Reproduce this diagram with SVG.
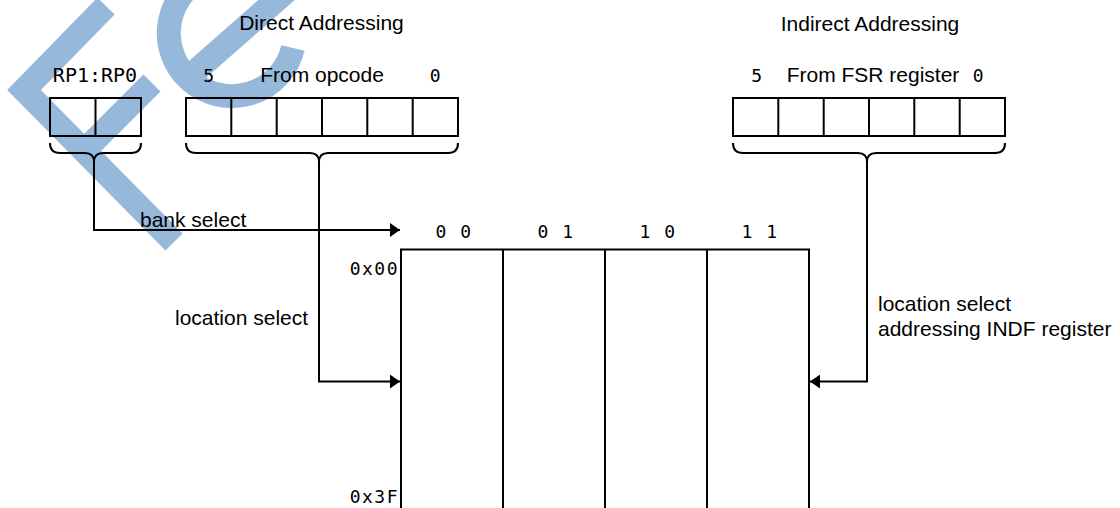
<svg xmlns="http://www.w3.org/2000/svg" width="1120" height="508" viewBox="0 0 1120 508">
<defs>
<style>
.wm{fill:none;stroke:#96b9db;stroke-width:24}
.box{fill:none;stroke:#000;stroke-width:2}
.ln{fill:none;stroke:#000;stroke-width:2}
.t{font-family:"Liberation Sans",Arial,sans-serif;font-size:21px;fill:#000}
.m{font-family:"DejaVu Sans Mono","Liberation Mono",monospace;font-size:18px;fill:#000;letter-spacing:1.5px}
.mb{font-family:"DejaVu Sans Mono","Liberation Mono",monospace;font-size:20px;fill:#000}
</style>
<marker id="ah" markerWidth="10" markerHeight="14" refX="10" refY="7" orient="auto" markerUnits="userSpaceOnUse">
<path d="M0,0 L10,7 L0,14 Z" fill="#000"/>
</marker>
</defs>
<rect width="1120" height="508" fill="#fff"/>
<g id="watermark">
<polyline class="wm" points="106,6 24,90 174,242"/>
<line class="wm" x1="85" y1="150" x2="152" y2="83"/>
<path class="wm" d="M210,-26 A63,63 0 1 0 293,48"/>
<line class="wm" x1="190" y1="76" x2="288" y2="-10"/>
</g>
<g id="rp-register">
<text class="mb" x="95" y="82" text-anchor="middle">RP1:RP0</text>
<rect class="box" x="50" y="98" width="91" height="38"/>
<line class="ln" x1="95.5" y1="98" x2="95.5" y2="136"/>
<path class="ln" d="M50,143 Q50,153 60,153 H85 Q94,153 94,162 Q94,153 103,153 H131 Q141,153 141,143"/>
</g>
<g id="direct">
<text class="t" x="321.5" y="30" text-anchor="middle">Direct Addressing</text>
<text class="m" x="209.5" y="82" text-anchor="middle">5</text>
<text class="t" x="322" y="82" text-anchor="middle">From opcode</text>
<text class="m" x="436" y="82" text-anchor="middle">0</text>
<rect class="box" x="186" y="98" width="272" height="38"/>
<path class="ln" d="M231.3,98V136M276.7,98V136M322,98V136M367.3,98V136M412.7,98V136"/>
<path class="ln" d="M186,143 Q186,153 196,153 H310 Q319,153 319,162 Q319,153 328,153 H448 Q458,153 458,143"/>
</g>
<g id="indirect">
<text class="t" x="870" y="31" text-anchor="middle">Indirect Addressing</text>
<text class="m" x="757.5" y="82" text-anchor="middle">5</text>
<text class="t" x="873" y="82" text-anchor="middle">From FSR register</text>
<text class="m" x="979" y="82" text-anchor="middle">0</text>
<rect class="box" x="733" y="98" width="272" height="38"/>
<path class="ln" d="M778.3,98V136M823.7,98V136M869,98V136M914.3,98V136M959.7,98V136"/>
<path class="ln" d="M733,143 Q733,153 743,153 H858 Q867,153 867,162 Q867,153 876,153 H995 Q1005,153 1005,143"/>
</g>
<g id="memory">
<text class="m" x="454" y="237.5" text-anchor="middle">0 0</text>
<text class="m" x="556" y="237.5" text-anchor="middle">0 1</text>
<text class="m" x="658" y="237.5" text-anchor="middle">1 0</text>
<text class="m" x="760" y="237.5" text-anchor="middle">1 1</text>
<text class="m" x="399" y="275" text-anchor="end">0x00</text>
<text class="m" x="399" y="503" text-anchor="end">0x3F</text>
<path class="ln" d="M401,520 V249.5 H809 V520"/>
<path class="ln" d="M503,249.5V520M605,249.5V520M707,249.5V520"/>
</g>
<g id="connectors">
<polyline class="ln" points="94,161 94,230 400,230" marker-end="url(#ah)"/>
<polyline class="ln" points="319,161 319,381.5 400,381.5" marker-end="url(#ah)"/>
<polyline class="ln" points="867,161 867,381.5 810,381.5" marker-end="url(#ah)"/>
</g>
<g id="labels">
<text class="t" x="140" y="227">bank select</text>
<text class="t" x="175" y="325">location select</text>
<text class="t" x="878" y="311">location select</text>
<text class="t" x="878" y="336">addressing INDF register</text>
</g>
</svg>
